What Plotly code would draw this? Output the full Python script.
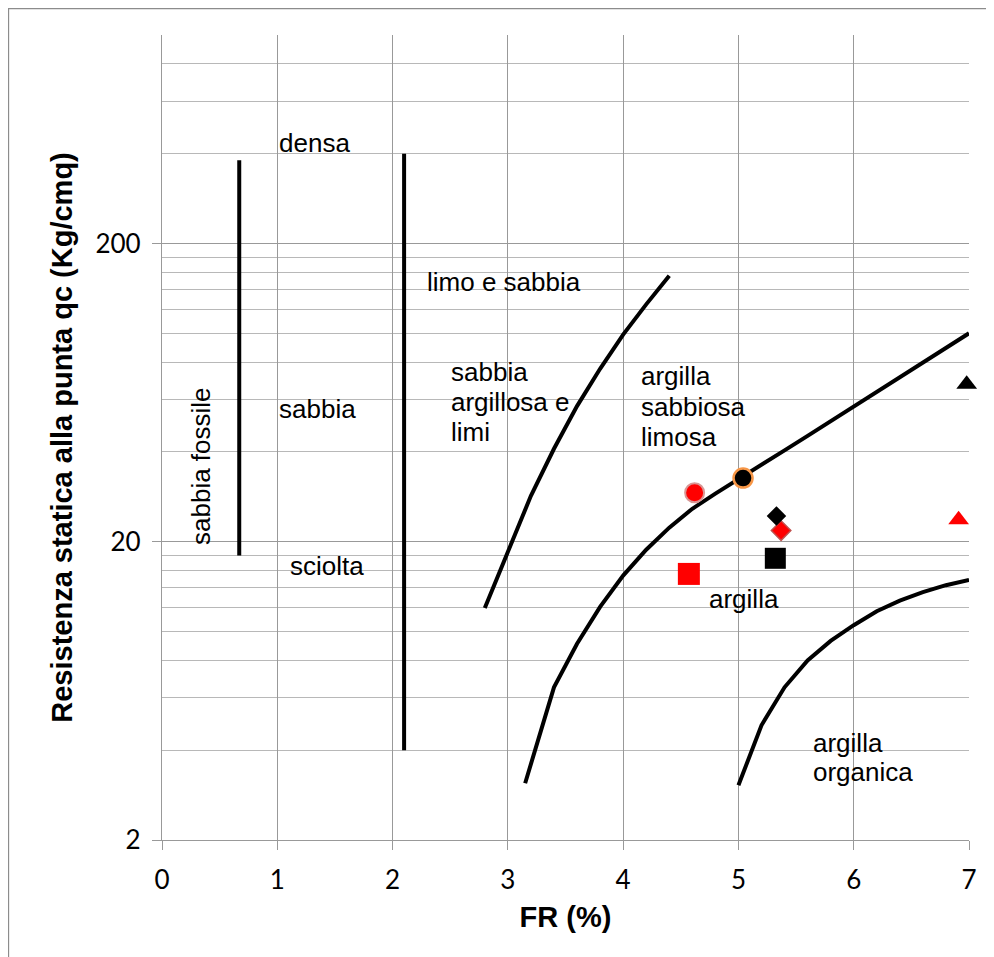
import numpy as np
import plotly.graph_objects as go

# boundary lines of the classification chart (FR %, qc Kg/cmq)
limo_fr = [2.8, 3.0, 3.2, 3.4, 3.6, 3.8, 4.0, 4.2, 4.4]
limo_qc = [12, 18.5, 28.5, 41, 57, 76, 99, 125, 156]

argilla_fr = [3.15, 3.4, 3.6, 3.8, 4.0, 4.2, 4.4, 4.6, 4.8, 5.0,
              5.2, 5.4, 5.6, 5.8, 6.0, 6.2, 6.4, 6.6, 6.8, 7.0]
argilla_qc = [3.1, 6.5, 9.1, 12.1, 15.4, 18.8, 22.3, 25.8, 29.0, 32.5,
              36.3, 40.5, 45.3, 50.7, 57, 63.5, 71, 79.5, 89, 100]

organica_fr = [5.0, 5.2, 5.4, 5.6, 5.8, 6.0, 6.2, 6.4, 6.6, 6.8, 7.0]
organica_qc = [3.05, 4.85, 6.5, 8.0, 9.3, 10.5, 11.7, 12.7, 13.55, 14.3, 14.9]

fossile_fr = [0.67, 0.67]
fossile_qc = [18, 380]
sabbia_fr = [2.1, 2.1]
sabbia_qc = [4, 400]

# test points
punti_fr = [4.62, 5.04, 4.57, 5.32, 5.37, 5.33, 6.91, 6.98]
punti_qc = [29.2, 32.7, 15.6, 17.6, 21.8, 24.4, 23.7, 67.5]

x_ticks = [0, 1, 2, 3, 4, 5, 6, 7]
y_ticks = [2, 20, 200]
y_minor = [4, 6, 8, 10, 12, 14, 16, 18, 40, 60, 80, 100, 120, 140, 160, 180,
           400, 600, 800, 1000]

fig = go.Figure()

# boundary lines
for xs, ys in [(fossile_fr, fossile_qc), (sabbia_fr, sabbia_qc),
               (limo_fr, limo_qc), (argilla_fr, argilla_qc),
               (organica_fr, organica_qc)]:
    fig.add_trace(go.Scatter(x=xs, y=ys, mode="lines",
                             line=dict(color="black", width=4)))

# marker styles, same order as punti_fr / punti_qc
styles = [
    dict(symbol="circle", color="#ff0000", size=19, line=dict(color="#d99694", width=2)),
    dict(symbol="circle", color="black", size=19, line=dict(color="#f79646", width=2.5)),
    dict(symbol="square", color="#ff0000", size=22, line=dict(width=0)),
    dict(symbol="square", color="black", size=21, line=dict(width=0)),
    dict(symbol="diamond", color="#ff0000", size=15, line=dict(color="#c0504d", width=1.5)),
    dict(symbol="diamond", color="black", size=15, line=dict(width=0)),
    dict(symbol="triangle-up", color="#ff0000", size=18, line=dict(width=0)),
    dict(symbol="triangle-up", color="black", size=18, line=dict(width=0)),
]
for i in range(len(punti_fr)):
    fig.add_trace(go.Scatter(x=[punti_fr[i]], y=[punti_qc[i]], mode="markers",
                             marker=styles[i], cliponaxis=False))

# zone labels (text, FR, qc)
labels = [
    ("densa", 1.0, 434),
    ("limo e sabbia", 2.28, 148),
    ("sabbia", 2.49, 74),
    ("argillosa e", 2.49, 58.8),
    ("limi", 2.49, 46.6),
    ("argilla", 4.14, 72),
    ("sabbiosa", 4.14, 56.6),
    ("limosa", 4.14, 44.8),
    ("sabbia", 1.0, 55.7),
    ("sciolta", 1.09, 16.6),
    ("argilla", 4.73, 12.9),
    ("argilla", 5.63, 4.23),
    ("organica", 5.63, 3.37),
]
lab_font = dict(family="Liberation Sans, Arial", size=26, color="black")
for txt, lx, ly in labels:
    fig.add_annotation(x=lx, y=np.log10(ly), text=txt, showarrow=False,
                       xanchor="left", yanchor="middle", font=lab_font)
fig.add_annotation(x=0.344, y=np.log10(35.8), text="sabbia fossile", showarrow=False,
                   textangle=-90, xanchor="center", yanchor="middle", font=lab_font)

# outer chart border
fig.add_shape(type="rect", xref="paper", yref="paper",
              x0=-0.1902, x1=1.2, y0=-0.3, y1=1.0329,
              line=dict(color="#8c8c8c", width=1.3))

title_font = dict(family="Liberation Sans, Arial", size=29, color="black", weight="bold")
tick_font = dict(family="Lato", size=26, color="black")

fig.update_layout(
    width=986, height=949,
    margin=dict(l=154, r=25, t=27, b=117),
    plot_bgcolor="white", paper_bgcolor="white",
    showlegend=False,
    xaxis=dict(
        range=[0, 7], tickvals=x_ticks,
        showgrid=True, gridcolor="#999999", gridwidth=1.3,
        showline=True, linecolor="#999999", linewidth=1.3,
        ticks="outside", ticklen=9, tickcolor="#999999", tickwidth=1.3,
        ticklabelstandoff=8,
        tickfont=tick_font, zeroline=False,
        title=dict(text="FR (%)", font=title_font, standoff=12),
    ),
    yaxis=dict(
        type="log", range=[np.log10(2), 3], tickvals=y_ticks,
        showgrid=True, gridcolor="#999999", gridwidth=1.3,
        minor=dict(tickmode="array", tickvals=y_minor, showgrid=True,
                   gridcolor="#b8b8b8", gridwidth=1.3, ticks=""),
        showline=True, linecolor="#999999", linewidth=1.3,
        ticks="outside", ticklen=9, tickcolor="#999999", tickwidth=1.3,
        ticklabelstandoff=6,
        tickfont=tick_font, zeroline=False,
        title=dict(text="Resistenza statica alla punta qc (Kg/cmq)", font=title_font, standoff=14),
    ),
)

fig.write_html("out.html")
